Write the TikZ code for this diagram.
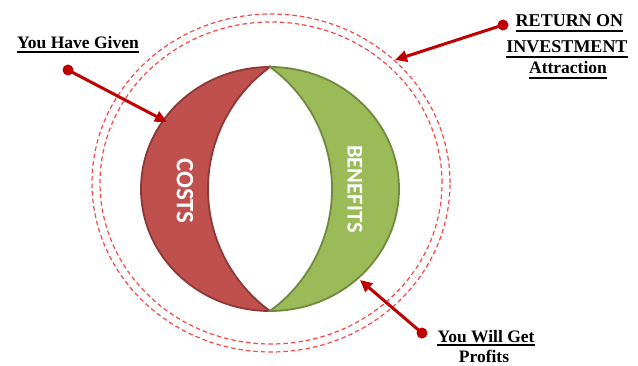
\documentclass[tikz,border=0pt]{standalone}
\usepackage{fontspec}
\setmainfont{Liberation Serif}
\newfontfamily\carl{Carlito}
\usetikzlibrary{arrows.meta}
\definecolor{costred}{HTML}{C0504D}
\definecolor{costedge}{HTML}{8C3836}
\definecolor{bengreen}{HTML}{9BBB59}
\definecolor{benedge}{HTML}{71893F}
\definecolor{arrred}{HTML}{C00000}
\definecolor{dashred}{RGB}{250,70,70}
\tikzset{
  lbl/.style={inner sep=0pt, anchor=base, font=\bfseries\fontsize{17.5}{20}\selectfont, text=black},
  ul/.style={line width=1.6pt, black},
  ptr/.style={draw=arrred, line width=3pt, -{Triangle[length=12pt,width=11pt]}},
  dotc/.style={fill=arrred},
  ring/.style={draw=dashred, line width=1.2pt, dash pattern=on 4.5pt off 3pt},
  seg/.style={line width=1.8pt},
  inlbl/.style={inner sep=0pt, text=white, rotate=-90, font=\carl}
}
\begin{document}
\begin{tikzpicture}[x=1pt,y=1pt]
\useasboundingbox (0,0) rectangle (638,365);
% dashed rings
\draw[ring] (271,182) ellipse [x radius=179, y radius=169];
\draw[ring] (271,182) ellipse [x radius=171, y radius=161];
% costs segment
\filldraw[seg, fill=costred, draw=costedge]
  (270,298) arc [start angle=90, end angle=270, x radius=129, y radius=122]
  arc [start angle=233.9, end angle=126.1, radius=151] -- cycle;
% benefits segment
\filldraw[seg, fill=bengreen, draw=benedge]
  (270,298) arc [start angle=90, end angle=-90, x radius=129, y radius=122]
  arc [start angle=-53.9, end angle=53.9, radius=151] -- cycle;
\node[inlbl, font=\carl\bfseries\fontsize{25}{28}\selectfont] (costs) at (185,174) {COSTS};
\node[inlbl, font=\carl\bfseries\fontsize{22.5}{26}\selectfont] (benefits) at (355,176) {BENEFITS};
% labels
\node[lbl] (given) at (78,316) {You Have Given};
\draw[ul] ([yshift=-3pt]given.base west) -- ([yshift=-3pt]given.base east);
\node[lbl, font=\bfseries\fontsize{18}{20}\selectfont] (ret) at (569.5,338) {RETURN ON};
\draw[ul] ([yshift=-4pt]ret.base west) -- ([yshift=-4pt]ret.base east);
\node[lbl, font=\bfseries\fontsize{18}{20}\selectfont] (inv) at (567,312) {INVESTMENT};
\draw[ul] ([yshift=-4pt]inv.base west) -- ([yshift=-4pt]inv.base east);
\node[lbl] (attr) at (568,291) {Attraction};
\draw[ul] ([yshift=-4pt]attr.base west) -- ([yshift=-4pt]attr.base east);
\node[lbl] (get) at (486,23) {You Will Get};
\draw[ul] ([yshift=-3pt]get.base west) -- ([yshift=-3pt]get.base east);
\node[lbl] (profits) at (484,3) {Profits};
% arrows
\coordinate (d1) at (68,295);
\coordinate (t1) at (167,243);
\coordinate (d2) at (503,340);
\coordinate (t2) at (395,305);
\coordinate (d3) at (422,32);
\coordinate (t3) at (360,85);
\draw[ptr] (d1) -- (t1);
\draw[ptr] (d2) -- (t2);
\draw[ptr] (d3) -- (t3);
\fill[dotc] (d1) circle (5.5);
\fill[dotc] (d2) circle (5.5);
\fill[dotc] (d3) circle (5.5);
\end{tikzpicture}
\end{document}
